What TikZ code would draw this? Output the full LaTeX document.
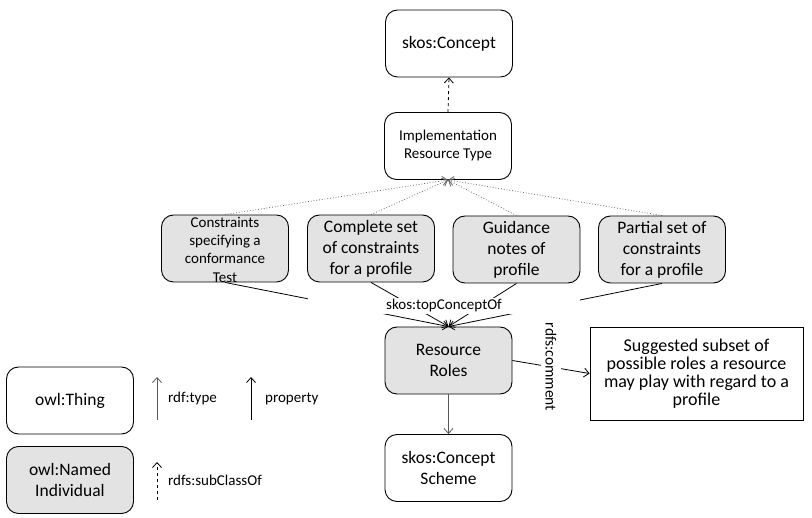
\documentclass[tikz,border=0pt]{standalone}
\usepackage{fontspec}
\setmainfont{Carlito}
\usetikzlibrary{arrows.meta}
\begin{document}
\begin{tikzpicture}[x=1pt,y=-1pt,
  box/.style={draw, line width=0.9pt, rounded corners=12pt, minimum width=127pt, minimum height=67pt, inner sep=1pt, align=center, font=\fontsize{17.5}{21}\selectfont},
  shaded/.style={box, fill=gray!22},
  txt/.style={inner sep=0pt, align=center},
  tip/.style={-{Straight Barb[length=5pt,width=9pt,line width=0.8pt]}},
  conn/.style={line width=0.8pt, tip},
  dotconn/.style={gray!80!black, line width=0.8pt, dotted, tip},
  thinconn/.style={gray!70!black, line width=0.6pt, tip},
  lbl/.style={font=\fontsize{15}{18}\selectfont, inner sep=0pt}
]
\useasboundingbox (0,0) rectangle (812,518);

\node[box] (sc) at (449,43.5) {skos:Concept};
\node[box, font=\fontsize{15}{18}\selectfont] (irt) at (448,146) {Implementation\\Resource Type};
\node[shaded] (cst) at (225,248.5) {};
\node[txt, font=\fontsize{15}{18.3}\selectfont] (cstt) at (225,249.5) {Constraints\\specifying a\\conformance\\Test};
\node[shaded] (cmp) at (371,248.5) {Complete set\\of constraints\\for a profile};
\node[shaded] (gui) at (516.5,249.5) {Guidance\\notes of\\profile};
\node[shaded] (par) at (662,249.5) {Partial set of\\constraints\\for a profile};
\node[shaded] (rr) at (448.5,360.5) {Resource\\Roles};
\node[box] (scs) at (448.5,468) {skos:Concept\\Scheme};
\node[draw, line width=0.9pt, minimum width=213pt, minimum height=93pt, align=center, inner sep=1pt, font=\fontsize{18}{18}\selectfont] (sug) at (696.5,373.5) {Suggested subset of\\possible roles a resource\\may play with regard to a\\profile};

% dotted subclass arrows
\foreach \n in {cst,cmp,gui,par} \draw[dotconn] (\n.north) -- (irt.south);
\draw[conn, dashed] (irt.north) -- (sc.south);

% topConceptOf
\foreach \n in {cst,cmp,gui,par} \draw[conn] (\n.south) -- (rr.north);
\node[fill=white, minimum width=272pt, minimum height=16pt, inner sep=0pt, font=\fontsize{15}{18}\selectfont] (tco) at (444,306) {skos:topConceptOf};

\draw[conn] (rr.east) -- node[fill=white, rotate=-90, inner sep=5pt, font=\fontsize{15.5}{18}\selectfont] (rc) {rdfs:comment} (sug.west);
\draw[thinconn] (rr.south) -- (scs.north);

% legend
\node[box] (thing) at (70,400.5) {owl:Thing};
\node[shaded] (named) at (70,480) {owl:Named\\Individual};
\coordinate (ta) at (157,420); \coordinate (tb) at (157,377);
\coordinate (pa) at (251,420); \coordinate (pb) at (251,377);
\coordinate (sa) at (157,500); \coordinate (sb) at (157,462);
\draw[thinconn] (ta) -- (tb);
\draw[conn] (pa) -- (pb);
\draw[conn, dashed, line width=0.6pt] (sa) -- (sb);
\node[lbl, anchor=west] (lt) at (168,399) {rdf:type};
\node[lbl, anchor=west] (lp) at (265,399) {property};
\node[lbl, anchor=west] (ls) at (168,480) {rdfs:subClassOf};
\end{tikzpicture}
\end{document}
